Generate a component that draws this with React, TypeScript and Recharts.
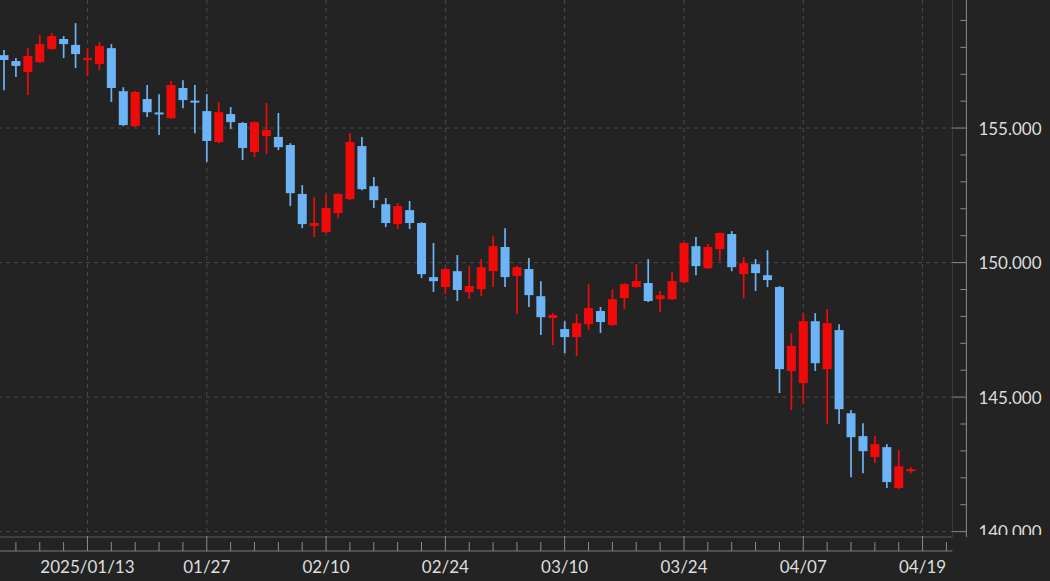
import { ComposedChart, Bar, XAxis, YAxis, CartesianGrid } from 'recharts';

// Daily candles (weekdays), 2025/01/02 .. 2025/04/18
const dates = [
  '01/02', '01/03', '01/06', '01/07', '01/08', '01/09', '01/10',
  '01/13', '01/14', '01/15', '01/16', '01/17', '01/20', '01/21', '01/22', '01/23', '01/24',
  '01/27', '01/28', '01/29', '01/30', '01/31', '02/03', '02/04', '02/05', '02/06', '02/07',
  '02/10', '02/11', '02/12', '02/13', '02/14', '02/17', '02/18', '02/19', '02/20', '02/21',
  '02/24', '02/25', '02/26', '02/27', '02/28', '03/03', '03/04', '03/05', '03/06', '03/07',
  '03/10', '03/11', '03/12', '03/13', '03/14', '03/17', '03/18', '03/19', '03/20', '03/21',
  '03/24', '03/25', '03/26', '03/27', '03/28', '03/31', '04/01', '04/02', '04/03', '04/04',
  '04/07', '04/08', '04/09', '04/10', '04/11', '04/14', '04/15', '04/16', '04/17', '04/18',
];
// empty slots on the right side of the axis
const padSlots = ['04/19', '04/20', '04/21'];

const open = [
  157.71, 157.49, 157.08, 157.45, 157.94, 158.31, 158.09,
  157.53, 157.38, 157.97, 156.37, 155.07, 156.08, 155.58, 155.37, 156.49, 156.02,
  155.63, 154.48, 155.52, 155.19, 154.11, 154.70, 154.67, 154.37, 152.55, 151.36,
  151.13, 151.84, 152.36, 154.33, 152.84, 152.17, 151.43, 151.95, 151.47, 149.46,
  149.09, 149.68, 148.90, 149.01, 149.68, 150.58, 149.50, 149.76, 148.75, 147.94,
  147.53, 147.23, 147.71, 148.20, 147.68, 148.68, 149.09, 149.24, 148.64, 148.64,
  149.27, 150.61, 149.79, 150.50, 151.06, 149.57, 149.94, 149.53, 149.09, 145.97,
  145.52, 147.82, 146.04, 147.49, 144.40, 143.55, 142.77, 143.14, 141.62, 142.28,
];
const high = [
  157.90, 157.60, 157.97, 158.46, 158.53, 158.42, 158.90,
  157.97, 158.20, 158.12, 156.52, 156.38, 156.60, 156.26, 156.75, 156.78, 156.60,
  156.26, 155.97, 155.78, 155.22, 155.24, 155.93, 155.56, 154.44, 152.88, 152.43,
  152.55, 152.58, 154.81, 154.67, 153.18, 152.40, 152.21, 152.29, 151.50, 150.73,
  149.80, 150.28, 149.87, 150.13, 150.98, 151.28, 149.87, 150.17, 149.31, 148.12,
  147.82, 148.09, 149.20, 148.35, 149.01, 149.24, 149.94, 150.13, 148.94, 149.65,
  150.75, 150.95, 150.69, 151.12, 151.17, 150.20, 150.13, 150.46, 149.13, 147.38,
  148.12, 148.12, 148.27, 147.71, 144.52, 144.03, 143.55, 143.25, 143.03, 142.40,
];
const low = [
  156.41, 156.90, 156.23, 157.42, 157.90, 157.60, 157.23,
  156.93, 157.16, 155.97, 155.07, 155.04, 155.41, 154.74, 155.35, 155.74, 154.81,
  153.74, 154.44, 154.96, 153.81, 153.92, 154.03, 154.18, 152.10, 151.28, 150.95,
  151.10, 151.65, 152.33, 152.69, 152.03, 151.32, 151.25, 151.25, 149.42, 148.91,
  148.83, 148.57, 148.64, 148.75, 149.09, 149.09, 148.09, 148.35, 147.31, 146.93,
  146.63, 146.52, 147.49, 147.38, 147.64, 148.27, 149.07, 148.53, 148.16, 148.61,
  149.25, 149.53, 149.76, 150.05, 149.68, 148.68, 148.94, 149.09, 145.15, 144.52,
  144.77, 145.97, 144.00, 144.00, 142.02, 142.17, 142.55, 141.62, 141.58, 142.17,
];
const close = [
  157.53, 157.31, 157.68, 158.12, 158.42, 158.12, 157.75,
  157.60, 158.05, 156.49, 155.11, 156.34, 155.59, 155.52, 156.60, 156.04, 155.97,
  154.52, 155.59, 155.22, 154.26, 155.22, 154.93, 154.29, 152.58, 151.43, 151.47,
  152.03, 152.55, 154.48, 152.73, 152.32, 151.47, 152.10, 151.47, 149.57, 149.31,
  149.76, 148.98, 149.13, 149.83, 150.61, 149.46, 149.83, 148.79, 147.97, 148.05,
  147.23, 147.75, 148.31, 147.79, 148.64, 149.20, 149.31, 148.57, 148.79, 149.31,
  150.73, 149.87, 150.58, 151.10, 149.83, 149.98, 149.61, 149.35, 146.04, 146.90,
  147.82, 146.26, 147.75, 144.55, 143.51, 142.99, 143.25, 141.84, 142.43, 142.32,
];

const xMajorTicks = ['01/13', '01/27', '02/10', '02/24', '03/10', '03/24', '04/07', '04/19'];
const xMajorLabels = ['2025/01/13', '01/27', '02/10', '02/24', '03/10', '03/24', '04/07', '04/19'];
const yTicks = [140, 141, 142, 143, 144, 145, 146, 147, 148, 149, 150, 151, 152, 153, 154, 155, 156, 157, 158, 159];
const yMajorTicks = [140, 145, 150, 155];
const Y_DOMAIN: [number, number] = [139.8, 159.76];

const BG = '#232323';
const UP = '#f20a0a';
const DOWN = '#6cb4f6';
const TEXT = '#dedede';
const FONT = 'Lato, "Open Sans", sans-serif';

const slots = [...dates, ...padSlots];
const data = slots.map((d, i) => ({
  d,
  open: i < dates.length ? open[i] : null,
  high: i < dates.length ? high[i] : null,
  low: i < dates.length ? low[i] : null,
  close: i < dates.length ? close[i] : null,
  range: i < dates.length ? [low[i], high[i]] : null,
}));

function Candle(props: any) {
  const { x, y, width, height, payload } = props;
  if (!payload || payload.open == null || !height) return null;
  const { open: o, close: c, high: h, low: l } = payload;
  const color = c >= o ? UP : DOWN;
  const k = height / (h - l);
  const cx = x + width / 2;
  const top = y + (h - Math.max(o, c)) * k;
  let bot = y + (h - Math.min(o, c)) * k;
  if (bot - top < 2) bot = top + 2;
  return (
    <g>
      <line x1={cx} x2={cx} y1={y} y2={y + height} stroke={color} strokeWidth={1.7} />
      <rect x={cx - 4.5} y={top} width={9} height={bot - top} fill={color} />
    </g>
  );
}

function XTick(props: any) {
  const { x, y, payload } = props;
  const i = slots.indexOf(payload.value);
  const m = xMajorTicks.indexOf(payload.value);
  if (m < 0 && i % 2 === 0) return null;
  const base = y + 14;
  return (
    <g>
      <line x1={x} x2={x} y1={base} y2={base - (m >= 0 ? 15 : 9)} stroke="#8c8c8c" strokeWidth={1} />
      {m >= 0 && (
        <text x={x} y={base + 15} textAnchor="middle" dominantBaseline="central"
          fill={TEXT} fontSize={17} fontFamily={FONT}>
          {xMajorLabels[m]}
        </text>
      )}
    </g>
  );
}

function YTick(props: any) {
  const { x, y, payload } = props;
  const major = yMajorTicks.includes(payload.value);
  const edge = x + 14;
  return (
    <g>
      <line x1={edge} x2={edge - (major ? 14 : 6)} y1={y} y2={y} stroke="#8c8c8c" strokeWidth={1} />
      {major && (
        <svg x={edge} y={0} width={90} height={535} overflow="hidden">
          <text x={12} y={y} dominantBaseline="central" fill={TEXT} fontSize={17} fontFamily={FONT}>
            {payload.value.toFixed(3)}
          </text>
        </svg>
      )}
    </g>
  );
}

export default function App() {
  return (
    <div style={{ position: 'fixed', left: 0, top: 0, width: 1050, height: 581, overflow: 'hidden', background: BG }}>
      <div style={{ position: 'absolute', left: -1.77, top: 0 }}>
        <ComposedChart width={1052} height={581} data={data} barCategoryGap={0}
          margin={{ top: 0, right: 0, bottom: 0, left: 0 }}>
          <CartesianGrid xAxisId="x" yAxisId="y" stroke="#4a4a4a" strokeDasharray="4 4"
            verticalValues={xMajorTicks} horizontalValues={yMajorTicks} />
          <XAxis xAxisId="x" dataKey="d" type="category" height={14} interval={0}
            tickLine={false} tickSize={0} tickMargin={0} axisLine={{ stroke: '#5a5a5a' }} tick={<XTick />} />
          <XAxis xAxisId="xf" dataKey="d" type="category" height={30}
            tick={false} tickLine={false} axisLine={{ stroke: '#7c7c7c' }} />
          <YAxis yAxisId="y" orientation="right" width={14} domain={Y_DOMAIN} ticks={yTicks} interval={0}
            allowDataOverflow type="number" tickLine={false} tickSize={0} tickMargin={0}
            axisLine={{ stroke: '#3e3e3e' }} tick={<YTick />} />
          <YAxis yAxisId="yf" orientation="right" width={83.6} domain={Y_DOMAIN} allowDataOverflow type="number"
            tick={false} tickLine={false} axisLine={{ stroke: '#8c8c8c' }} />
          <Bar xAxisId="x" yAxisId="y" dataKey="range" shape={Candle} isAnimationActive={false} />
        </ComposedChart>
      </div>
    </div>
  );
}
